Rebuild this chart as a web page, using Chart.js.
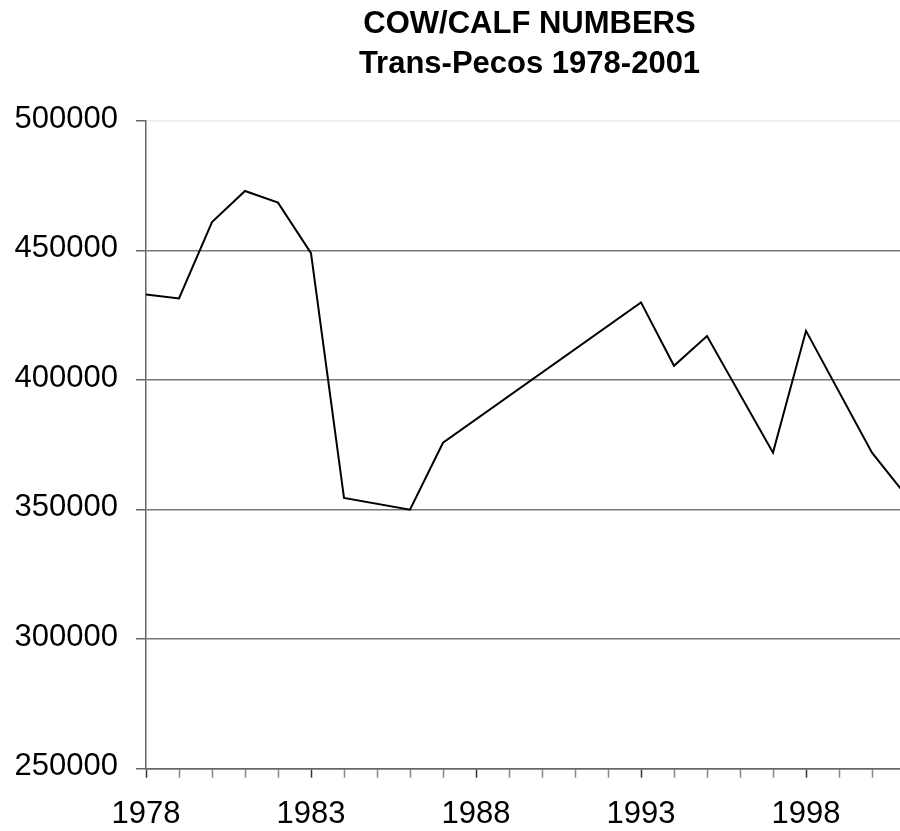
<!DOCTYPE html>
<html>
<head>
<meta charset="utf-8">
<script src="https://cdn.jsdelivr.net/npm/chart.js@4/dist/chart.umd.min.js"></script>
<style>
  html, body { margin: 0; padding: 0; overflow: hidden; background: #fff; }
  #wrap { width: 1059px; height: 831px; }
</style>
</head>
<body>
<div id="wrap"><canvas id="c" width="1059" height="831"></canvas></div>
<script>
// Cow/calf numbers, Trans-Pecos region (null = no survey that year)
const years = [
  '1978', '1979', '1980', '1981', '1982', '1983', '1984', '1985',
  '1986', '1987', '1988', '1989', '1990', '1991', '1992', '1993',
  '1994', '1995', '1996', '1997', '1998', '1999', '2000', '2001'
];
const cowCalf = [
  433000, 431500, 461000, 473000, 468500, 449000, 354500, null,
  350000, 375800, null, null, null, null, null, 430000,
  405500, 417000, null, 372000, 419000, null, 372000, 356000
];
const titleLines = ['COW/CALF NUMBERS', 'Trans-Pecos 1978-2001'];
const yMin = 250000;
const yMax = 500000;
const yStep = 50000;
const labelEvery = 5;

const FONT = '"Liberation Sans", Arial, sans-serif';

new Chart(document.getElementById('c'), {
  type: 'line',
  data: {
    labels: years,
    datasets: [{
      data: cowCalf,
      borderColor: '#000',
      borderWidth: 2,
      pointRadius: 0,
      tension: 0,
      spanGaps: true,
      fill: false
    }]
  },
  options: {
    responsive: false,
    devicePixelRatio: 1,
    animation: false,
    layout: { padding: 0 },
    plugins: {
      legend: { display: false },
      tooltip: { enabled: false },
      title: {
        display: true,
        text: titleLines,
        color: '#000',
        font: { family: FONT, size: 31, weight: 'bold', lineHeight: 1.3 },
        padding: { top: 4, bottom: 36.4 }
      }
    },
    scales: {
      x: {
        offset: false,
        afterFit: (scale) => { scale.height = 62.3; },
        grid: {
          display: true,
          offset: false,
          drawOnChartArea: false,
          drawTicks: true,
          tickLength: 9,
          tickWidth: 1.5,
          tickColor: (ctx) => (ctx.index % labelEvery === 0 ? '#333' : '#888')
        },
        border: { display: true, color: '#666', width: 1.5 },
        ticks: {
          autoSkip: false,
          maxRotation: 0,
          minRotation: 0,
          padding: 19.5,
          color: '#000',
          font: { family: FONT, size: 31, lineHeight: 1.1 },
          callback: (v, i) => (i % labelEvery === 0 ? years[i] : '')
        }
      },
      y: {
        min: yMin,
        max: yMax,
        afterFit: (scale) => { scale.width = 146; },
        grid: {
          color: (ctx) => (ctx.tick && ctx.tick.value === yMax ? '#eeeeee' : '#777'),
          lineWidth: 1.5,
          drawTicks: true,
          tickLength: 10,
          tickColor: '#666',
          tickWidth: 1.5
        },
        border: { display: true, color: '#666', width: 1.5 },
        ticks: {
          stepSize: yStep,
          padding: 18,
          labelOffset: -2,
          color: '#000',
          font: { family: FONT, size: 31, lineHeight: 1.1 },
          callback: (v) => String(v)
        }
      },
      // empty right-hand strip so the plot runs on past the visible edge
      pad: {
        type: 'linear',
        position: 'right',
        display: true,
        grid: { display: false },
        border: { display: false },
        ticks: { display: false },
        afterFit: (scale) => { scale.width = 154; }
      }
    }
  }
});
</script>
</body>
</html>
